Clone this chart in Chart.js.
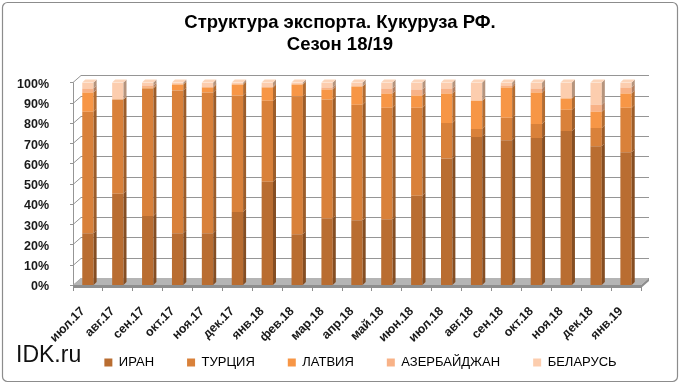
<!DOCTYPE html>
<html><head><meta charset="utf-8">
<script src="https://cdn.jsdelivr.net/npm/chart.js@4"></script>
<style>html,body{margin:0;padding:0;background:#fff;}#wrap{width:680px;height:384px;position:relative}</style>
</head><body><div id="wrap"><canvas id="c" width="680" height="384"></canvas></div>
<script>
const categories = ['июл.17','авг.17','сен.17','окт.17','ноя.17','дек.17','янв.18','фев.18','мар.18','апр.18','май.18','июн.18','июл.18','авг.18','сен.18','окт.18','ноя.18','дек.18','янв.19'];
const seriesNames = ['ИРАН','ТУРЦИЯ','ЛАТВИЯ','АЗЕРБАЙДЖАН','БЕЛАРУСЬ'];
const iran       = [25.5, 45, 34, 25.5, 25.5, 36, 51, 25, 33, 32, 32.5, 44, 62.5, 73, 71.5, 72.5, 76, 68.5, 65.5];
const turkey     = [60, 46.5, 63, 70.5, 69.5, 57.5, 40, 68, 58.5, 57, 55, 43.5, 17.5, 4, 11, 7, 10.5, 9, 22];
const latvia     = [9.5, 0, 0.5, 3, 2.5, 5.5, 6.5, 6, 5, 9, 7, 6, 14.5, 14, 15, 15.5, 5.5, 8, 7];
const azerbaijan = [2, 0, 1, 0, 0.5, 0, 0.5, 0, 1, 0, 2.5, 3, 2.5, 0, 1, 2, 0, 3.5, 3];
const belarus    = [3, 8.5, 1.5, 1, 2, 1, 2, 1, 2.5, 2, 3, 3.5, 3, 9, 1.5, 3, 8, 11, 2.5];
const yTickValues = [0,10,20,30,40,50,60,70,80,90,100];
const titleLines = ['Структура экспорта. Кукуруза РФ.', 'Сезон 18/19'];
const watermark = 'IDK.ru';

const colors = ['#B96D31', '#D9813A', '#F79646', '#F8B287', '#FCCDAE'];
const FONT = '"Liberation Sans", Arial, sans-serif';
const DX = 8, DY = -7, BDX = 3, BDY = -3;

function shade(hex, f) {
  const n = parseInt(hex.slice(1), 16);
  let r = (n >> 16) & 255, g = (n >> 8) & 255, b = n & 255;
  if (f < 1) { r *= f; g *= f; b *= f; }
  else { r += (255 - r) * (f - 1); g += (255 - g) * (f - 1); b += (255 - b) * (f - 1); }
  return 'rgb(' + Math.round(r) + ',' + Math.round(g) + ',' + Math.round(b) + ')';
}

const frame = {
  id: 'frame',
  beforeDraw(chart) {
    const ctx = chart.ctx;
    ctx.save();
    ctx.fillStyle = '#fff';
    ctx.fillRect(0, 0, chart.width, chart.height);
    ctx.strokeStyle = '#8c8c8c';
    ctx.lineWidth = 1.2;
    ctx.beginPath();
    ctx.roundRect(2.5, 2.5, chart.width - 5, chart.height - 5, 5);
    ctx.stroke();
    ctx.restore();
  },
  afterDraw(chart) {
    const ctx = chart.ctx;
    ctx.save();
    ctx.fillStyle = '#111';
    ctx.font = '23px ' + FONT;
    ctx.textBaseline = 'alphabetic';
    ctx.fillText(watermark, 16, 362);
    ctx.restore();
  }
};

const walls = {
  id: 'walls',
  beforeDatasetsDraw(chart) {
    const ctx = chart.ctx, ys = chart.scales.y, a = chart.chartArea;
    const L = a.left, R = a.right;
    ctx.save();
    ctx.strokeStyle = '#959595';
    ctx.lineWidth = 1;
    yTickValues.forEach(v => {
      const y = Math.round(ys.getPixelForValue(v)) + 0.5;
      ctx.beginPath();
      ctx.moveTo(L - 3, y);
      ctx.lineTo(L, y);
      ctx.lineTo(L + DX, y + DY);
      ctx.lineTo(R + DX, y + DY);
      ctx.stroke();
    });
    const y0 = ys.getPixelForValue(0), y1 = ys.getPixelForValue(100);
    ctx.beginPath();
    ctx.moveTo(L + 0.5, y1); ctx.lineTo(L + 0.5, y0);
    ctx.stroke();
    // floor
    ctx.fillStyle = '#b4b4b4';
    ctx.beginPath();
    ctx.moveTo(L, y0); ctx.lineTo(R, y0); ctx.lineTo(R + DX, y0 + DY); ctx.lineTo(L + DX, y0 + DY);
    ctx.closePath(); ctx.fill();
    ctx.fillStyle = '#8e8e8e';
    ctx.beginPath();
    ctx.moveTo(L, y0); ctx.lineTo(R, y0); ctx.lineTo(R + DX, y0 + DY); ctx.lineTo(R + DX, y0 + DY + 3); ctx.lineTo(R, y0 + 3); ctx.lineTo(L, y0 + 3);
    ctx.closePath(); ctx.fill();
    ctx.restore();
  }
};

const bars3d = {
  id: 'bars3d',
  afterDatasetsDraw(chart) {
    const ctx = chart.ctx;
    const n = chart.data.datasets.length;
    ctx.save();
    for (let i = 0; i < n; i++) {
      const meta = chart.getDatasetMeta(i);
      const col = chart.data.datasets[i].backgroundColor;
      meta.data.forEach((el, j) => {
        const p = el.getProps(['x', 'y', 'base', 'width'], true);
        const top = Math.min(p.y, p.base), bot = Math.max(p.y, p.base);
        if (bot - top < 0.3) return;
        const xr = p.x + p.width / 2, xl = p.x - p.width / 2;
        ctx.fillStyle = shade(col, 0.72);
        ctx.beginPath();
        ctx.moveTo(xr, top); ctx.lineTo(xr + BDX, top + BDY); ctx.lineTo(xr + BDX, bot + BDY); ctx.lineTo(xr, bot);
        ctx.closePath(); ctx.fill();
        let isTop = true;
        for (let k = i + 1; k < n; k++) if (chart.data.datasets[k].data[j] > 0) isTop = false;
        if (isTop) {
          ctx.fillStyle = shade(col, 1.15);
          ctx.beginPath();
          ctx.moveTo(xl, top); ctx.lineTo(xl + BDX, top + BDY); ctx.lineTo(xr + BDX, top + BDY); ctx.lineTo(xr, top);
          ctx.closePath(); ctx.fill();
        }
      });
    }
    ctx.restore();
  }
};

const layoutTweak = {
  id: 'layoutTweak',
  afterLayout(chart) {
    if (chart.legend) { chart.legend.left += 40; chart.legend.right += 40; }
    if (chart.titleBlock) { chart.titleBlock.left += 19.5; chart.titleBlock.right += 19.5; }
    const xs = chart.scales.x;
    xs.bottom = chart.height;
  }
};

const seriesData = [iran, turkey, latvia, azerbaijan, belarus];
new Chart(document.getElementById('c'), {
  type: 'bar',
  data: {
    labels: categories,
    datasets: seriesNames.map((name, i) => ({
      label: name,
      data: seriesData[i],
      backgroundColor: colors[i],
      borderWidth: 0,
      barPercentage: 0.38,
      categoryPercentage: 1
    }))
  },
  options: {
    responsive: false,
    animation: false,
    devicePixelRatio: 1,
    layout: { padding: { left: 0, right: 39, top: 0, bottom: 5 } },
    plugins: {
      title: {
        display: true,
        text: titleLines,
        color: '#000',
        font: { family: FONT, size: 18.5, weight: 'bold', lineHeight: 1.2 },
        padding: { top: 12, bottom: 26 }
      },
      legend: {
        position: 'bottom',
        labels: {
          boxWidth: 8, boxHeight: 8, padding: 33, color: '#000',
          font: { family: FONT, size: 13 }
        }
      },
      tooltip: { enabled: false }
    },
    scales: {
      x: {
        stacked: true,
        grid: { display: true, drawOnChartArea: false, offset: true, tickLength: 6, color: '#8c8c8c' },
        border: { display: false },
        ticks: { autoSkip: false, minRotation: 45, maxRotation: 45, padding: 13, labelOffset: -5, color: '#1a1a1a', font: { family: FONT, size: 12.5, weight: 'bold' } },
        afterFit(s) { s.height = 38; }
      },
      y: {
        stacked: true, min: 0, max: 100,
        grid: { display: false },
        border: { display: false },
        ticks: { stepSize: 10, padding: 16, labelOffset: 2, color: '#1a1a1a', callback: v => v + '%', font: { family: FONT, size: 12.5, weight: 'bold' } },
        afterFit(s) { s.width = 73; }
      }
    }
  },
  plugins: [frame, walls, bars3d, layoutTweak]
});
</script></body></html>
